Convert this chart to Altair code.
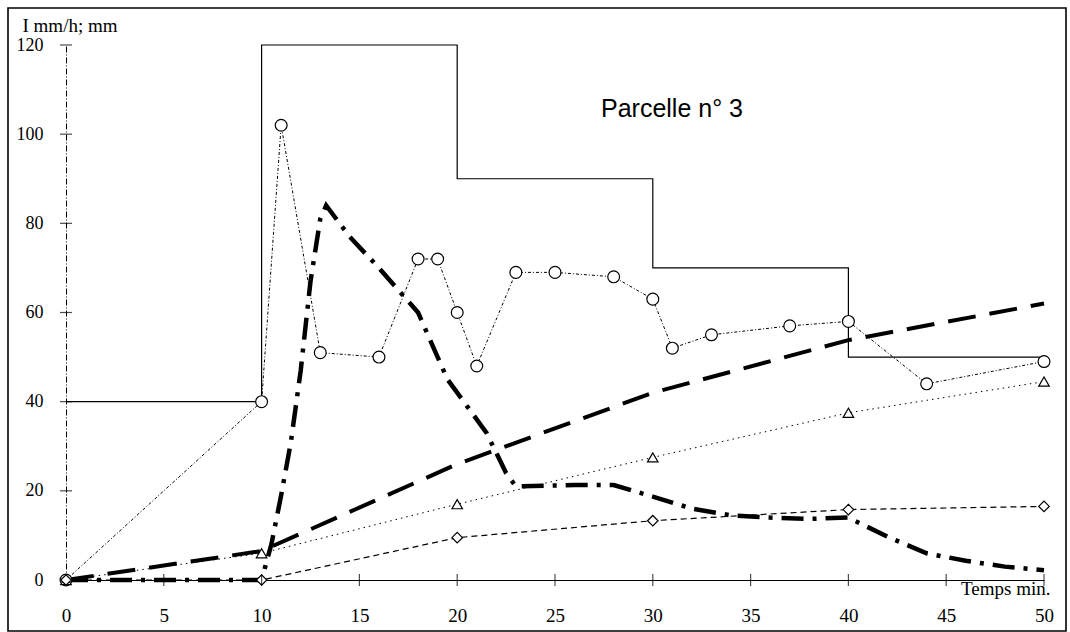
import altair as alt
import pandas as pd

# ---- data ----
rain_t = [0, 10, 20, 30, 40, 50]
rain_i = [40, 120, 90, 70, 50, 50]

circ_t = [0, 10, 11, 13, 16, 18, 19, 20, 21, 23, 25, 28, 30, 31, 33, 37, 40, 44, 50]
circ_v = [0, 40, 102, 51, 50, 72, 72, 60, 48, 69, 69, 68, 63, 52, 55, 57, 58, 44, 49]

tri_t = [0, 10, 20, 30, 40, 50]
tri_v = [0, 6, 17, 27.5, 37.5, 44.5]

dia_t = [0, 10, 20, 30, 40, 50]
dia_v = [0, 0, 9.5, 13.3, 15.8, 16.5]

cum_t = [0, 10, 20, 30, 40, 50]
cum_v = [0, 6.5, 26, 42, 53.8, 62]

hyd_t = [0, 10, 10.5, 11, 11.5, 12, 12.5, 13, 13.3, 14.5, 16, 17, 18, 19, 19.5, 20.5,
         21.5, 22.5, 23, 26, 28, 30, 32, 34, 36, 38, 40, 42, 44, 46, 48, 50]
hyd_v = [0, 0, 8, 19, 31, 47, 67, 81, 84, 77, 70, 65, 60, 50, 45, 39,
         33, 24, 21, 21.3, 21.3, 18.7, 16, 14.5, 14, 13.7, 14, 9.7, 6, 4.3, 3, 2.2]

x_ticks = [0, 5, 10, 15, 20, 25, 30, 35, 40, 45, 50]
y_ticks = [0, 20, 40, 60, 80, 100, 120]

SERIF = "Liberation Serif"

xs = alt.Scale(domain=[0, 50], nice=False, zero=False)
ys = alt.Scale(domain=[0, 120], nice=False, zero=False)

def df(t, v):
    return pd.DataFrame({"t": t, "v": v})

x_axis = alt.Axis(
    values=x_ticks, ticks=False, tickSize=0, grid=False,
    domainColor="black", domainWidth=1.2,
    labelFont=SERIF, labelFontSize=19, labelColor="black", labelPadding=26,
    labelFlush=False, labelOverlap=False, format="d",
    title="Temps min.", titleFont=SERIF, titleFontSize=19, titleFontWeight="normal",
    titleColor="black", titleX=984, titleY=14, titleAlign="right",
    titleBaseline="alphabetic", titleAngle=0,
)
y_axis = alt.Axis(
    values=y_ticks, ticks=False, tickSize=0, grid=False,
    domainColor="black", domainWidth=1, domainDash=[6, 2, 1, 2],
    labelFont=SERIF, labelFontSize=18, labelColor="black", labelPadding=23,
    labelFlush=False, labelOverlap=False, format="d",
    title="I mm/h; mm", titleFont=SERIF, titleFontSize=19, titleFontWeight="normal",
    titleColor="black", titleX=-44, titleY=-14, titleAlign="left",
    titleBaseline="alphabetic", titleAngle=0,
)

X = alt.X("t:Q", scale=xs, axis=x_axis)
Y = alt.Y("v:Q", scale=ys, axis=y_axis)

frame = alt.Chart(pd.DataFrame({"a": [0]})).mark_rect(
    fillOpacity=0, stroke="black", strokeWidth=1.6
).encode(x=alt.value(-58), x2=alt.value(1000), y=alt.value(-37), y2=alt.value(586))

rain = alt.Chart(df(rain_t, rain_i)).mark_line(
    interpolate="step-after", color="black", strokeWidth=1.2
).encode(x=X, y=Y)

def line(t, v, width, dash):
    return alt.Chart(df(t, v)).mark_line(
        color="black", strokeWidth=width, strokeDash=dash
    ).encode(x=X, y=Y)

def pts(t, v, shape, size):
    return alt.Chart(df(t, v)).mark_point(
        shape=shape, size=size, filled=True, fill="white", stroke="black",
        strokeWidth=1.2, opacity=1
    ).encode(x=X, y=Y)

cum = line(cum_t, cum_v, 4, [28, 14])
hyd = line(hyd_t, hyd_v, 4.5, [22, 9, 4, 9])
circ_l = line(circ_t, circ_v, 1, [3, 2, 1, 2])
tri_l = line(tri_t, tri_v, 1, [1.5, 4])
dia_l = line(dia_t, dia_v, 1.2, [6, 4])

circ_p = pts(circ_t, circ_v, "circle", 140)
tri_p = pts(tri_t, tri_v, "triangle-up", 110)
dia_p = pts(dia_t, dia_v, "diamond", 110)

xt = alt.Chart(pd.DataFrame({"t": x_ticks[1:]})).mark_tick(
    orient="vertical", size=12, thickness=1.2, color="black"
).encode(x=X, y=alt.value(535))

yt = alt.Chart(pd.DataFrame({"v": y_ticks[1:]})).mark_tick(
    orient="horizontal", size=12, thickness=1.2, color="black"
).encode(y=Y, x=alt.value(0))

title = alt.Chart(pd.DataFrame({"s": ["Parcelle n° 3"]})).mark_text(
    font="Liberation Sans", fontSize=25, color="black", align="center", baseline="middle"
).encode(text="s:N", x=alt.value(606), y=alt.value(64))

chart = alt.layer(
    frame, rain, cum, hyd, circ_l, tri_l, dia_l, circ_p, tri_p, dia_p, xt, yt, title
).properties(
    width=978, height=535,
    padding={"left": 66, "top": 45, "right": 26, "bottom": 52},
    autosize=alt.AutoSizeParams(type="none"),
    background="white",
).configure_view(stroke="transparent")

chart.save("out.html", embed_options={"renderer": "svg", "actions": False})
